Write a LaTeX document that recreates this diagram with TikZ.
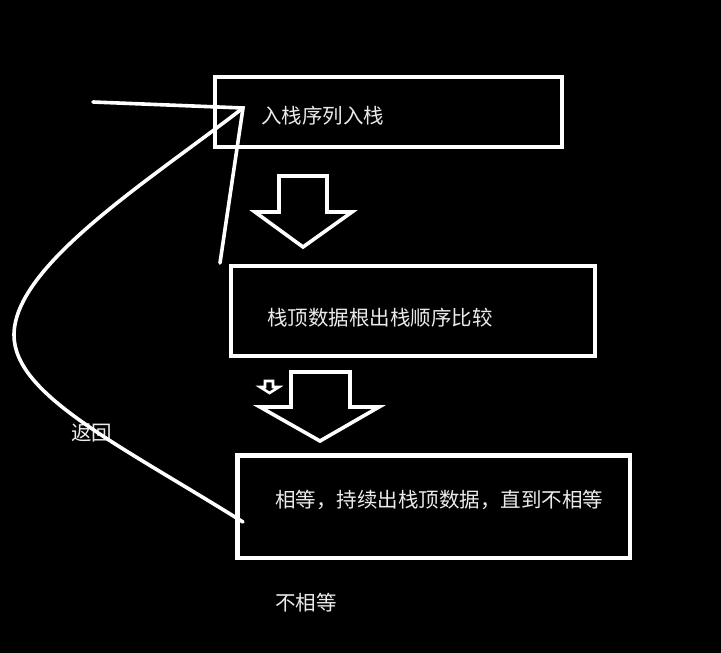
\documentclass[tikz,border=0pt]{standalone}
\usepackage{fontspec}
\newfontfamily\cjk{Noto Sans CJK SC}
\begin{document}
\begin{tikzpicture}[x=1pt,y=-1pt,
  wline/.style={draw=white,line width=3.6pt},
  stepbox/.style={draw=white,line width=4.5pt},
  lbl/.style={text=white!92!black,font=\cjk\fontsize{20.5}{23}\selectfont,inner sep=0pt,anchor=west},
  blockarrow/.style={draw=white,line width=3.6pt,line join=miter}]
\fill[black] (0,0) rectangle (721,653);
\useasboundingbox (0,0) rectangle (721,653);
% boxes
\draw[stepbox] (215,77) rectangle (562,147);
\draw[stepbox] (231,266) rectangle (595,356);
\draw[stepbox] (237.5,455.5) rectangle (630,558);
% labels
\node[lbl] (t1) at (261,116) {入栈序列入栈};
\node[lbl] (t2) at (267,318) {栈顶数据根出栈顺序比较};
\node[lbl] (t3) at (275,500) {相等，持续出栈顶数据，直到不相等};
\node[lbl] (t4) at (275,603) {不相等};
\node[lbl] (t5) at (71,433) {返回};
% block arrows
\draw[blockarrow] (279,176) -- (327,176) -- (327,212) -- (352,212) -- (303,247) -- (255,212) -- (279,212) -- cycle;
\draw[blockarrow] (291,372) -- (350,372) -- (350,407) -- (379,407) -- (320,441) -- (260,407) -- (291,407) -- cycle;
\draw[draw=white,line width=2.6pt,line join=miter] (265,381) -- (273,381) -- (273,387) -- (279,387) -- (269.5,393) -- (260,387) -- (265,387) -- cycle;
% sketch lines
\coordinate (p0) at (93,102);
\coordinate (tip) at (243,108);
\coordinate (q) at (220,263);
\draw[wline,line cap=round] (p0) -- (tip) -- (q);
\coordinate (left) at (14,335);
\coordinate (back) at (243,522);
\draw[wline,line cap=round] (tip) .. controls (150,180) and (14,265) .. (left)
  .. controls (14,395) and (120,445) .. (back);
\end{tikzpicture}
\end{document}
